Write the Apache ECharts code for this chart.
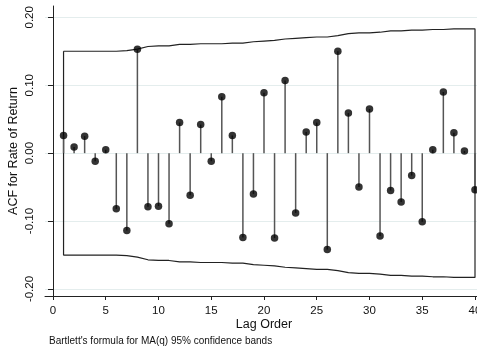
<!DOCTYPE html>
<html>
<head>
<meta charset="utf-8">
<script src="https://cdn.jsdelivr.net/npm/echarts@6/dist/echarts.min.js"></script>
<style>
  html, body { margin: 0; padding: 0; background: #fff; }
  #chart { width: 477px; height: 349px; }
</style>
</head>
<body>
<div id="chart"></div>
<script>
// lag orders 1..40
var lags = [1, 2, 3, 4, 5, 6, 7, 8, 9, 10, 11, 12, 13, 14, 15, 16, 17, 18, 19, 20,
            21, 22, 23, 24, 25, 26, 27, 28, 29, 30, 31, 32, 33, 34, 35, 36, 37, 38, 39, 40];
// autocorrelations
var acf = [0.026, 0.009, 0.025, -0.012, 0.005, -0.082, -0.114, 0.153, -0.079, -0.078,
           -0.104, 0.045, -0.062, 0.042, -0.012, 0.083, 0.026, -0.124, -0.060, 0.089,
           -0.125, 0.107, -0.088, 0.031, 0.045, -0.142, 0.150, 0.059, -0.050, 0.065,
           -0.122, -0.055, -0.072, -0.033, -0.101, 0.005, 0.090, 0.030, 0.003, -0.054];
// upper 95% band (Bartlett), lower band is the mirror
var bandUp = [0.150, 0.150, 0.150, 0.150, 0.150, 0.150, 0.151, 0.153, 0.157, 0.158,
              0.158, 0.160, 0.160, 0.161, 0.161, 0.161, 0.162, 0.162, 0.164, 0.165,
              0.166, 0.168, 0.169, 0.170, 0.171, 0.171, 0.173, 0.176, 0.177, 0.177,
              0.178, 0.180, 0.180, 0.181, 0.181, 0.182, 0.182, 0.183, 0.183, 0.183];
var xTicks = [0, 5, 10, 15, 20, 25, 30, 35, 40];
var yTicks = [-0.2, -0.1, 0, 0.1, 0.2];

var FONT = "'Liberation Sans', Arial, sans-serif";

var pts = [];
for (var i = 0; i < lags.length; i++) pts.push([lags[i], acf[i]]);

// band outline: upper left->right, lower right->left, then closed
var bandPath = [];
for (var i = 0; i < lags.length; i++) bandPath.push([lags[i], bandUp[i]]);
for (var i = lags.length - 1; i >= 0; i--) bandPath.push([lags[i], -bandUp[i]]);
bandPath.push([lags[0], bandUp[0]]);

var chart = echarts.init(document.getElementById('chart'), null, { renderer: 'canvas' });

var option = {
  backgroundColor: '#ffffff',
  animation: false,
  textStyle: { fontFamily: FONT },
  grid: { left: 45, right: 0, top: 6, bottom: 53, containLabel: false, outerBoundsMode: 'none' },
  xAxis: {
    type: 'value',
    min: -0.758,
    max: 40.19,
    name: 'Lag Order',
    nameLocation: 'middle',
    nameGap: 22,
    nameMoveOverlap: false,
    nameTextStyle: { fontSize: 12.5, color: '#111', fontFamily: FONT, padding: [0, 0, 0, 6] },
    axisLine: { show: true, onZero: false, lineStyle: { color: '#222', width: 1 } },
    axisTick: { show: true, length: 4, customValues: xTicks, lineStyle: { color: '#222' } },
    axisLabel: { customValues: xTicks, margin: 9, fontSize: 11.5, color: '#111', fontFamily: FONT },
    splitLine: { show: false }
  },
  yAxis: {
    type: 'value',
    min: -0.2103,
    max: 0.2166,
    name: 'ACF for Rate of Return',
    nameLocation: 'middle',
    nameGap: 25,
    nameMoveOverlap: false,
    nameTextStyle: { fontSize: 12.5, color: '#111', fontFamily: FONT },
    axisLine: { show: true, lineStyle: { color: '#222', width: 1 } },
    axisTick: { show: true, length: 5, customValues: yTicks, lineStyle: { color: '#222' } },
    axisLabel: {
      customValues: yTicks, rotate: 90, margin: 9, fontSize: 11.5, color: '#111', fontFamily: FONT,
      formatter: function (v) { return v.toFixed(2); }
    },
    splitLine: { show: true, lineStyle: { color: '#e4eded', width: 1 } }
  },
  graphic: [{
    type: 'text',
    left: 49,
    top: 336,
    style: {
      text: "Bartlett's formula for MA(q) 95% confidence bands",
      fontSize: 10,
      fontFamily: FONT,
      fill: '#111'
    }
  }],
  series: [
    {
      // confidence bands
      type: 'line',
      data: bandPath,
      symbol: 'none',
      lineStyle: { color: '#222', width: 1.2 },
      z: 2,
      silent: true
    },
    {
      // spikes from zero
      type: 'custom',
      data: pts,
      z: 3,
      renderItem: function (params, api) {
        var x = api.value(0), y = api.value(1);
        var p0 = api.coord([x, 0]);
        var p1 = api.coord([x, y]);
        return {
          type: 'line',
          shape: { x1: p0[0], y1: p0[1], x2: p1[0], y2: p1[1] },
          style: { stroke: '#555', lineWidth: 1.5 }
        };
      }
    },
    {
      type: 'scatter',
      data: pts,
      symbol: 'circle',
      symbolSize: 7.5,
      itemStyle: { color: '#000' },
      z: 4
    }
  ]
};

chart.setOption(option);
</script>
</body>
</html>
